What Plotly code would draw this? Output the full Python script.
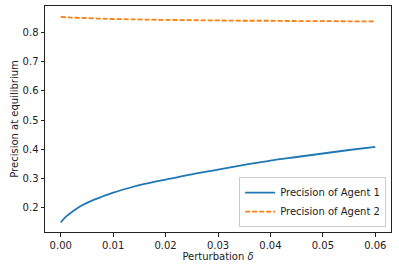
import plotly.graph_objects as go

delta = [0, 0.001, 0.002, 0.0035, 0.005, 0.0065, 0.008, 0.01, 0.013, 0.016,
         0.02, 0.025, 0.03, 0.035, 0.04, 0.045, 0.05, 0.055, 0.06]
agent1 = [0.150, 0.170, 0.184, 0.203, 0.217, 0.229, 0.239, 0.252, 0.268, 0.282,
          0.297, 0.315, 0.331, 0.347, 0.362, 0.374, 0.386, 0.398, 0.409]
agent2 = [0.853, 0.852, 0.851, 0.850, 0.849, 0.848, 0.847, 0.846, 0.845, 0.844,
          0.843, 0.842, 0.841, 0.840, 0.840, 0.839, 0.839, 0.838, 0.838]
xticks = [0.0, 0.01, 0.02, 0.03, 0.04, 0.05, 0.06]
yticks = [0.2, 0.3, 0.4, 0.5, 0.6, 0.7, 0.8]

fig = go.Figure()
fig.add_trace(go.Scatter(x=delta, y=agent1, mode="lines", name="Precision of Agent 1",
                         line=dict(color="#1f77b4", width=1.8, shape="spline")))
fig.add_trace(go.Scatter(x=delta, y=agent2, mode="lines", name="Precision of Agent 2",
                         line=dict(color="#ff7f0e", width=1.8, dash="5px,2px", shape="spline")))

axis_common = dict(showline=True, linecolor="#222", linewidth=1, mirror=True,
                   ticks="outside", ticklen=3.5, tickcolor="#222", tickwidth=1,
                   showgrid=False, zeroline=False, automargin=False,
                   tickfont=dict(family="DejaVu Sans", size=10, color="#222"))

fig.update_layout(
    width=399, height=271,
    margin=dict(l=45, r=8, t=6, b=39),
    paper_bgcolor="white", plot_bgcolor="white",
    font=dict(family="DejaVu Sans", size=10, color="#222"),
    xaxis=dict(range=[-0.003, 0.063], tickvals=xticks, tickformat=".2f",
               title=dict(text="Perturbation <i>δ</i>", font=dict(size=10), standoff=2),
               **axis_common),
    yaxis=dict(range=[0.1175, 0.8905], tickvals=yticks, tickformat=".1f",
               title=dict(text="Precision at equilibrium", font=dict(size=10), standoff=2),
               **axis_common),
    legend=dict(x=0.986, y=0.022, xanchor="right", yanchor="bottom",
                bordercolor="#ccc", borderwidth=1, bgcolor="rgba(255,255,255,0.8)",
                font=dict(size=10), tracegroupgap=0, itemwidth=30),
    showlegend=True,
)

fig.write_html("out.html", config={"displayModeBar": False},
               post_script="document.body.style.margin='0px';document.body.style.overflow='hidden';")
